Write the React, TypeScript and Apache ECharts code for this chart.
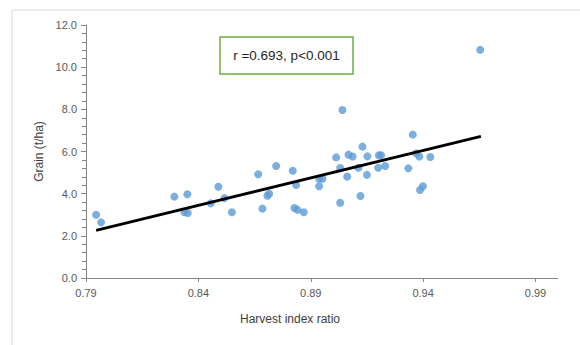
import React, { useEffect, useRef } from "react";
import * as echarts from "echarts";

const harvestIndex: number[] = [
  0.7945, 0.7967, 0.8293, 0.8351, 0.8338, 0.8353, 0.8455, 0.8489, 0.8516, 0.8549,
  0.8666, 0.8685, 0.8707, 0.8715, 0.8746, 0.882, 0.8835, 0.8827, 0.8841, 0.8869,
  0.8937, 0.8937, 0.8952, 0.9013, 0.9031, 0.9031, 0.9068, 0.9086, 0.9062, 0.9112,
  0.913, 0.9121, 0.9152, 0.915, 0.9203, 0.9213, 0.92, 0.9231, 0.9334, 0.9369,
  0.9383, 0.9432, 0.9386, 0.9399, 0.9654, 0.9041, 0.9354,
];
const grain: number[] = [
  3.0, 2.64, 3.86, 3.97, 3.12, 3.08, 3.54, 4.33, 3.79, 3.12,
  4.92, 3.29, 3.9, 4.0, 5.31, 5.09, 4.41, 3.32, 3.23, 3.12,
  4.35, 4.71, 4.71, 5.72, 5.22, 3.57, 5.85, 5.76, 4.81, 5.23,
  6.23, 3.89, 5.77, 4.89, 5.82, 5.82, 5.23, 5.31, 5.2, 5.91,
  5.76, 5.74, 4.17, 4.35, 10.82, 7.97, 6.8,
];
const trendX: number[] = [0.7945, 0.9657];
const trendY: number[] = [2.26, 6.72];
const xTicks: number[] = [0.79, 0.84, 0.89, 0.94, 0.99];
const annotation = "r =0.693, p<0.001";

const FONT = "Liberation Sans";

export default function App() {
  const ref = useRef<HTMLDivElement>(null);
  useEffect(() => {
    if (!ref.current) return;
    const chart = echarts.init(ref.current, null, { renderer: "svg" });
    chart.setOption({
      animation: false,
      backgroundColor: "#ffffff",
      grid: { left: 86, right: 22, top: 25, bottom: 67 },
      xAxis: {
        type: "value",
        min: 0.79,
        max: 1.0,
        name: "Harvest index ratio",
        nameLocation: "middle",
        nameGap: 35,
        nameTextStyle: { color: "#404040", fontSize: 12, fontFamily: FONT, padding: [0, 64, 0, 0] },
        axisLine: { show: true, lineStyle: { color: "#868686", width: 1 } },
        axisTick: { show: true, length: 4, customValues: xTicks, lineStyle: { color: "#868686" } },
        axisLabel: {
          customValues: xTicks,
          color: "#595959",
          fontSize: 11,
          fontFamily: FONT,
          margin: 9,
          formatter: (v: number) => v.toFixed(2),
        },
        splitLine: { show: false },
      },
      yAxis: {
        type: "value",
        min: 0,
        max: 12,
        interval: 2,
        name: "Grain (t/ha)",
        nameLocation: "middle",
        nameGap: 40,
        nameTextStyle: { color: "#404040", fontSize: 12, fontFamily: FONT },
        axisLine: { show: true, lineStyle: { color: "#868686", width: 1 } },
        axisTick: { show: true, length: 5, lineStyle: { color: "#868686" } },
        minorTick: { show: true, splitNumber: 5, length: 4, lineStyle: { color: "#868686" } },
        axisLabel: {
          color: "#595959",
          fontSize: 11,
          fontFamily: FONT,
          margin: 9,
          formatter: (v: number) => v.toFixed(1),
        },
        splitLine: { show: false },
      },
      series: [
        {
          type: "scatter",
          data: harvestIndex.map((x, i) => [x, grain[i]]),
          symbolSize: 8,
          itemStyle: { color: "#5b9bd5" },
          z: 3,
        },
        {
          type: "line",
          data: trendX.map((x, i) => [x, trendY[i]]),
          showSymbol: false,
          symbol: "none",
          lineStyle: { color: "#000000", width: 2.75 },
          z: 4,
        },
      ],
      graphic: [
        {
          type: "rect",
          shape: { x: 12, y: 10, width: 620, height: 400 },
          style: { fill: "none", stroke: "#d9d9d9", lineWidth: 1 },
          silent: true,
        },
        {
          type: "rect",
          shape: { x: 220, y: 37, width: 133, height: 37 },
          style: { fill: "#ffffff", stroke: "#70ad47", lineWidth: 1.5 },
          z: 10,
        },
        {
          type: "text",
          x: 286.5,
          y: 55.5,
          style: {
            text: annotation,
            fill: "#262626",
            fontSize: 13.5,
            fontFamily: FONT,
            align: "center",
            verticalAlign: "middle",
          },
          z: 11,
        },
      ],
    });
    return () => chart.dispose();
  }, []);
  return (
    <div
      ref={ref}
      style={{ position: "fixed", left: 0, top: 0, width: 580, height: 345, background: "#fff" }}
    />
  );
}
